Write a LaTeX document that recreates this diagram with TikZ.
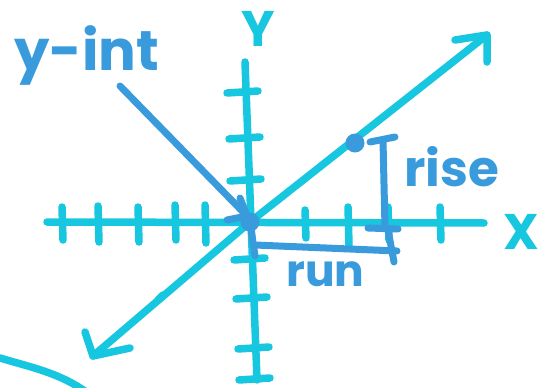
\documentclass[tikz,border=0pt]{standalone}
\usepackage{fontspec}
\setmainfont{Poppins}
\definecolor{cyanink}{HTML}{17C6DF}
\definecolor{blueink}{HTML}{3A9BDC}
\begin{document}
\begin{tikzpicture}[x=1pt,y=-1pt,
  cy/.style={draw=cyanink,line width=7.5pt,line cap=round,line join=round},
  bl/.style={draw=blueink,line width=7pt,line cap=round,line join=round},
  cytext/.style={text=cyanink,font=\fontsize{50}{50}\selectfont\bfseries,inner sep=0pt},
  bltext/.style={text=blueink,inner sep=0pt}]
\useasboundingbox (0,0) rectangle (555,388);
% axes
\coordinate (xl) at (47,222);
\coordinate (xr) at (484,223);
\coordinate (yt) at (245,62);
\coordinate (yb) at (257,380);
\coordinate (O) at (250,222);
\coordinate (dl) at (93,356);
\coordinate (dr) at (487,35);
\draw[cy] (xl) -- (xr);
\draw[cy] (yt) -- (yb);
\draw[cy] (dl) -- (O) -- (dr);
\draw[cy] ([shift={(-32,5)}]dr) -- (dr) -- ([shift={(0,27)}]dr);
\draw[cy] ([shift={(-8,-24)}]dl) -- (dl) -- ([shift={(37,-8)}]dl);
% x ticks
\foreach \x/\a/\b in {62/207/240,98/206/242,138/207/242,175/205/240,205/205/243,305/210/238,348/207/245,388/207/240,440/207/240}
  \draw[cy] (\x,\a) -- (\x+1,\b);
% y ticks
\foreach \y/\c in {92/246,138/248,180/249,259/253,298/255,348/257,379/258}
  \draw[cy] (\c-19,\y+1) -- (\c+12,\y-1);
% small mark on diagonal
\draw[cy] (158,300) -- (163,295);
% bottom-left stroke
\draw[cy] (0,358) .. controls (30,367) and (60,373) .. (86,392);
% axis labels
\node[cytext] (ylab) at (258,29) {Y};
\node[cytext] (xlab) at (521,232) {X};
% blue marks
\fill[blueink] (O) circle (9.5);
\coordinate (P) at (355,143);
\fill[blueink] (P) circle (9.5);
% y-int arrow
\coordinate (ys) at (120,86);
\coordinate (ytip) at (247,216);
\draw[bl] (ys) -- (ytip);
\draw[bl] (240,198) -- (ytip) -- (227,220);
% rise bracket
\coordinate (rt) at (383,140);
\coordinate (rb) at (385,228);
\draw[bl] (370,142) -- (395,137);
\draw[bl] (rt) -- (rb);
\draw[bl] (368,228) -- (398,229);
% run bracket
\coordinate (rs) at (255,245);
\coordinate (re) at (397,251);
\draw[bl] (O) -- (255,256);
\draw[bl] (rs) -- (re);
\draw[bl] (388,230) -- (394,262);
% labels
\node[bltext,font=\fontsize{56}{56}\selectfont\bfseries,anchor=base west] (yint) at (14,70) {y-int};
\node[bltext,font=\fontsize{50}{50}\selectfont\bfseries,anchor=base west] (rise) at (404,186) {rise};
\node[bltext,font=\fontsize{44}{44}\selectfont\bfseries,anchor=base west] (run) at (286,286) {run};
\end{tikzpicture}
\end{document}
